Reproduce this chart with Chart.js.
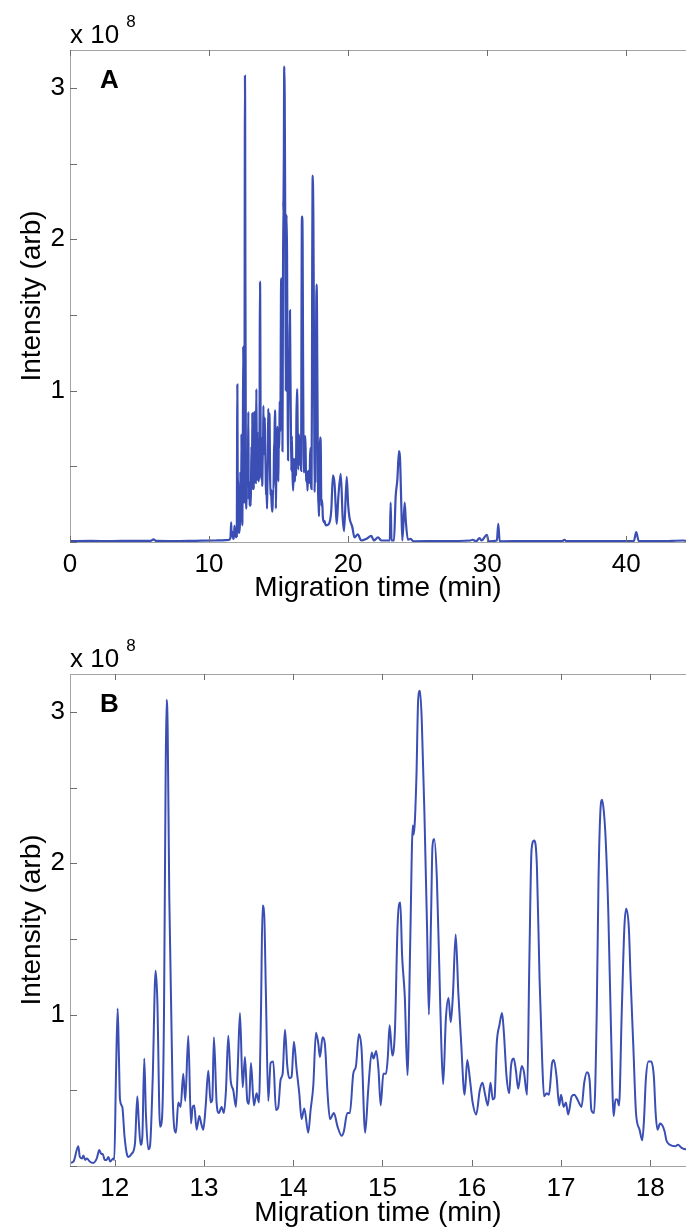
<!DOCTYPE html>
<html><head><meta charset="utf-8">
<script src="https://cdn.jsdelivr.net/npm/chart.js@4.4.1/dist/chart.umd.min.js"></script>
<style>
html,body{margin:0;padding:0;background:#fff;overflow:hidden;width:686px;height:1232px}
canvas{display:block;position:absolute;left:0}
</style></head><body>
<canvas id="chartA" width="686" height="624" style="top:0"></canvas>
<canvas id="chartB" width="686" height="608" style="top:624px"></canvas>
<script>
// Migration time (min)
const migrationTime = [
0,1.5,3,4.5,5.8,6.0,6.2,7.5,9,10.5,11.2,11.45,
11.50,11.54,11.593,11.61,11.635,11.65,11.67,11.69,11.72,11.76,11.80,11.828,11.85,11.866,11.89,11.91,11.93,11.95,11.985,11.996,
12.015,12.034,12.047,12.06,12.086,12.11,12.135,12.153,12.19,12.228,12.254,12.27,12.291,12.31,12.332,12.35,12.377,12.396,12.426,12.459,12.478,12.508,12.53,12.553,12.571,12.582,12.594,12.612,12.65,12.687,12.713,12.739,12.769,12.791,12.825,12.855,12.874,12.892,12.918,12.948,12.97,12.993,
13.019,13.049,13.075,13.094,13.112,13.142,13.168,13.198,13.224,13.247,13.273,13.299,13.329,13.359,13.381,13.404,13.434,13.46,13.486,13.505,13.527,13.56,13.59,13.616,13.639,13.657,13.676,13.695,13.721,13.747,13.777,13.807,13.833,13.859,13.882,13.908,13.934,13.956,13.982,
14.008,14.038,14.068,14.094,14.124,14.169,14.195,14.225,14.255,14.281,14.30,14.329,14.356,14.385,14.412,14.456,14.497,14.542,14.568,14.606,14.635,14.673,14.703,14.736,14.766,14.806,14.84,14.88,14.90,14.93,14.955,14.98,
15.01,15.04,15.06,15.08,15.11,15.14,15.17,15.20,15.22,15.25,15.28,15.31,15.34,15.35,15.38,15.40,15.42,15.44,15.47,15.50,15.52,15.545,15.56,15.58,15.61,15.64,15.66,15.68,15.71,15.74,15.765,15.79,15.82,15.85,15.88,15.92,15.95,15.98,
16.01,16.05,16.09,16.12,16.15,16.18,16.21,16.235,16.255,16.28,16.31,16.34,16.36,16.39,16.42,16.44,16.47,16.495,16.52,16.56,16.585,16.62,16.645,16.67,16.70,16.73,16.76,16.79,16.81,16.84,16.865,16.90,16.92,16.95,16.98,
17.00,17.03,17.055,17.08,17.12,17.15,17.175,17.20,17.23,17.26,17.29,17.32,17.34,17.37,17.40,17.42,17.44,17.46,17.48,17.50,17.53,17.56,17.59,17.61,17.63,17.65,17.68,17.71,17.73,17.76,17.78,17.81,17.84,17.88,17.91,17.93,17.95,17.98,
18.01,18.04,18.06,18.08,18.11,18.16,18.18,18.22,18.28,18.31,18.35,18.40,
18.62,18.79,18.91,19.03,19.10,19.18,19.30,19.47,19.61,19.71,19.90,20.00,20.10,20.30,20.46,20.70,20.94,21.30,21.67,21.85,22.15,22.40,22.80,23.00,23.06,23.12,23.30,23.42,23.54,23.66,23.73,23.83,23.90,24.07,24.15,24.30,24.50,24.70,
26.5,28.8,28.95,29.2,29.45,29.6,29.98,30.1,30.7,30.8,30.9,33,35.4,35.56,35.7,38,40.55,40.72,40.9,42.5,44.1,44.3
];
// Intensity in units of 1e8 (arb)
const intensityE8 = [
0.006,0.007,0.006,0.008,0.008,0.018,0.007,0.006,0.008,0.010,0.012,0.015,
0.02,0.03,0.13,0.06,0.05,0.07,0.04,0.05,0.03,0.02,0.05,0.106,0.08,0.08,0.04,0.04,0.06,0.03,0.05,0.04,
0.6,1.04,0.75,0.44,0.39,0.2,0.084,0.06,0.08,0.15,0.46,0.3,0.14,0.19,0.71,0.35,0.11,0.13,0.57,1.29,1.10,0.26,0.31,1.01,2.56,3.08,2.89,1.78,0.46,0.22,0.42,0.39,0.61,0.43,0.86,0.28,0.39,0.40,0.24,0.33,0.28,0.24,
0.39,0.63,0.42,0.44,0.85,0.42,0.35,0.39,0.35,0.50,0.86,0.57,0.50,0.39,0.68,1.01,0.52,0.72,0.43,0.41,0.68,0.40,0.48,0.42,1.01,1.72,1.65,1.12,0.43,0.68,0.69,0.37,0.39,0.57,0.61,0.90,0.66,0.58,0.59,
0.82,0.64,0.48,0.31,0.38,0.22,0.37,0.53,0.88,0.81,0.72,0.85,0.80,0.48,0.31,0.35,0.26,0.20,0.23,0.35,0.35,0.61,0.66,0.87,0.77,0.22,0.50,0.75,0.71,0.76,0.64,0.40,
0.61,0.61,0.72,0.93,0.73,0.90,1.60,1.74,1.39,1.12,0.60,1.45,2.25,2.19,2.56,3.08,3.14,2.95,2.33,1.56,1.00,1.67,2.11,2.16,1.89,1.23,0.79,0.54,0.97,1.11,0.95,1.14,1.53,1.14,0.83,0.47,0.70,0.57,
0.42,0.34,0.50,0.55,0.47,0.40,0.55,0.44,0.45,0.81,0.93,1.01,0.88,0.59,0.48,0.66,0.71,0.63,0.51,0.66,0.62,0.47,1.34,2.09,2.15,1.98,1.23,0.68,0.46,0.48,0.47,0.68,0.70,0.59,0.40,
0.47,0.39,0.42,0.34,0.46,0.47,0.45,0.42,0.39,0.55,0.62,0.57,0.37,0.35,1.01,1.89,2.33,2.42,2.34,2.16,1.67,0.90,0.33,0.44,0.44,0.40,1.01,1.58,1.70,1.57,1.23,0.79,0.35,0.24,0.17,0.31,0.57,0.69,
0.69,0.59,0.35,0.24,0.28,0.23,0.17,0.14,0.13,0.14,0.12,0.11,
0.12,0.21,0.44,0.38,0.25,0.12,0.30,0.45,0.16,0.07,0.43,0.25,0.16,0.10,0.03,0.05,0.01,0.02,0.04,0.01,0.03,0.01,0.01,0.01,0.26,0.01,0.01,0.30,0.41,0.60,0.56,0.23,0.01,0.26,0.14,0.015,0.02,0.005,
0.006,0.010,0.015,0.005,0.025,0.010,0.048,0.005,0.010,0.12,0.005,0.006,0.006,0.015,0.006,0.006,0.006,0.065,0.006,0.006,0.010,0.007
];
const panelAXTicks = [0, 10, 20, 30, 40];
const panelBXTicks = [12, 13, 14, 15, 16, 17, 18];
const yTickMarks = [0, 0.5, 1, 1.5, 2, 2.5, 3];
const yTickLabels = [1, 2, 3];
const panelLetters = ['A', 'B'];
const yExponent = '8';

const FONT = '"Liberation Sans", Arial, Helvetica, sans-serif';
const LINE = '#3a4eb4';
Chart.defaults.font.family = FONT;
Chart.defaults.color = '#000';

const framePlugin = {
  id: 'frame',
  afterDraw(chart, args, opts) {
    const {ctx, chartArea: {left, right, top, bottom}, scales: {x, y}} = chart;
    ctx.save();
    ctx.lineWidth = 1;
    ctx.strokeStyle = '#a3a3a3';
    ctx.beginPath();
    ctx.moveTo(left, top + 0.5); ctx.lineTo(right, top + 0.5);
    ctx.moveTo(left + 0.5, top); ctx.lineTo(left + 0.5, bottom + 1);
    ctx.moveTo(left, bottom + 0.5); ctx.lineTo(right, bottom + 0.5);
    ctx.stroke();
    ctx.strokeStyle = '#6e6e6e';
    ctx.beginPath();
    x.ticks.forEach(t => {
      const px = Math.round(x.getPixelForValue(t.value)) + 0.5;
      ctx.moveTo(px, bottom); ctx.lineTo(px, bottom - 6);
      ctx.moveTo(px, top); ctx.lineTo(px, top + 6);
    });
    y.ticks.forEach(t => {
      const py = Math.round(y.getPixelForValue(t.value)) + 0.5;
      ctx.moveTo(left, py); ctx.lineTo(left + 7, py);
    });
    ctx.stroke();
    ctx.fillStyle = '#000';
    ctx.textAlign = 'left';
    ctx.textBaseline = 'alphabetic';
    ctx.font = '26px ' + FONT;
    ctx.fillText('x 10', left, top - 7);
    const w = ctx.measureText('x 10').width;
    ctx.font = '17px ' + FONT;
    ctx.fillText(yExponent, left + w + 7, top - 23);
    ctx.font = 'bold 26px ' + FONT;
    ctx.fillText(opts.letter, left + 30, top + 38);
    ctx.restore();
  }
};

function makeChart(id, cfg) {
  const H = document.getElementById(id).height;
  return new Chart(document.getElementById(id), {
    type: 'line',
    data: {
      datasets: [{
        data: migrationTime.map((t, i) => ({x: t, y: intensityE8[i]})),
        borderColor: LINE,
        borderWidth: cfg.lineWidth,
        pointRadius: 0,
        fill: false,
        cubicInterpolationMode: 'monotone'
      }]
    },
    options: {
      responsive: false,
      animation: false,
      devicePixelRatio: 1,
      layout: {padding: {top: 50, left: 0, right: 0, bottom: 0}},
      plugins: {legend: {display: false}, tooltip: {enabled: false}, frame: {letter: cfg.letter}},
      scales: {
        x: {
          type: 'linear', min: cfg.xMin, max: cfg.xMax,
          afterBuildTicks: s => { s.ticks = cfg.xTicks.map(v => ({value: v})); },
          afterFit: s => { s.height = H - 542; },
          grid: {display: false, drawTicks: false},
          border: {display: false},
          ticks: {autoSkip: false, maxRotation: 0, padding: 7, color: '#000', font: {size: 26}},
          title: {display: true, text: 'Migration time (min)', color: '#000', font: {size: 28}, padding: {top: 0, bottom: cfg.titlePad}}
        },
        y: {
          type: 'linear', min: 0, max: 3.25,
          afterBuildTicks: s => { s.ticks = yTickMarks.map(v => ({value: v})); },
          afterFit: s => { s.width = 70; },
          grid: {display: false, drawTicks: false},
          border: {display: false},
          ticks: {autoSkip: false, padding: 5, color: '#000', font: {size: 26},
                  callback: v => yTickLabels.includes(v) ? String(v) : ''},
          title: {display: true, text: 'Intensity (arb)', color: '#000', font: {size: 28}, padding: {top: 15.5, bottom: 0}}
        }
      }
    },
    plugins: [framePlugin]
  });
}

makeChart('chartA', {letter: panelLetters[0], xMin: 0, xMax: 44.3, xTicks: panelAXTicks, lineWidth: 2.2, titlePad: 18.7});
makeChart('chartB', {letter: panelLetters[1], xMin: 11.5, xMax: 18.4, xTicks: panelBXTicks, lineWidth: 2, titlePad: 2.2});
</script>
</body></html>
